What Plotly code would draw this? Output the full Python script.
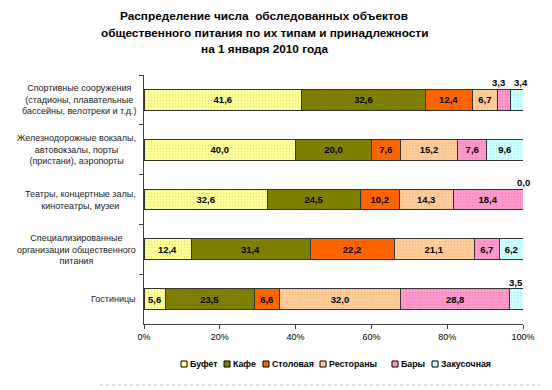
import plotly.graph_objects as go

categories = [
    "Спортивные сооружения<br>(стадионы, плавательные<br>бассейны, велотреки и т.д.)",
    "Железнодорожные вокзалы,<br>автовокзалы, порты<br>(пристани), аэропорты",
    "Театры, концертные залы,<br>кинотеатры, музеи",
    "Специализированные<br>организации общественного<br>питания",
    "Гостиницы",
]
series_names = ["Буфет", "Кафе", "Столовая", "Рестораны", "Бары", "Закусочная"]
buffet = [41.6, 40.0, 32.6, 12.4, 5.6]
cafe = [32.6, 20.0, 24.5, 31.4, 23.5]
canteen = [12.4, 7.6, 10.2, 22.2, 6.6]
restaurants = [6.7, 15.2, 14.3, 21.1, 32.0]
bars = [3.3, 7.6, 18.4, 6.7, 28.8]
snack = [3.4, 9.6, 0.0, 6.2, 3.5]
x_tick_values = [0, 20, 40, 60, 80, 100]
x_tick_labels = ["0%", "20%", "40%", "60%", "80%", "100%"]
title_lines = ["Распределение числа  обследованных объектов",
               "общественного питания по их типам и принадлежности",
               "на 1 января 2010 года"]

series_values = [buffet, cafe, canteen, restaurants, bars, snack]
colors = ["#FFFF99", "#808000", "#FF6600", "#FFCC99", "#FF99CC", "#CCFFFF"]
pattern_fg = ["#C8C860", "#6A6A00", "#E05000", "#E0A878", "#E070A8", "#90D8D8"]

FONT = "Liberation Sans, Arial, sans-serif"
OUT_THRESHOLD = 5.0

# plot-area geometry (pixels)
W, H = 552, 390
L, R, T, B = 144, 29, 75, 66
PW, PH = W - L - R, H - T - B

def px_x(px):
    return (px - L) / PW

def px_y(py):
    return (H - B - py) / PH

def fmt(v):
    return f"{v:.1f}".replace(".", ",")

fig = go.Figure()
annotations = []
shapes = []
cum = [0.0] * len(categories)
outside = [[] for _ in categories]
for name, vals, col, pfg in zip(series_names, series_values, colors, pattern_fg):
    texts = [fmt(v) if v >= OUT_THRESHOLD else "" for v in vals]
    fig.add_trace(go.Bar(
        name=name, y=categories, x=vals, orientation="h",
        marker=dict(color=col, line=dict(color="#333333", width=1),
                    pattern=dict(shape=".", fgcolor=pfg, size=3, solidity=0.15)),
        text=texts, texttemplate="<b>%{text}</b>", textposition="inside",
        insidetextanchor="middle", constraintext="none",
        textfont=dict(family=FONT, size=9.5, color="#000000"),
        hoverinfo="skip", showlegend=False,
    ))
    for i, v in enumerate(vals):
        if v < OUT_THRESHOLD:
            outside[i].append((min(cum[i] + v / 2, 100), v))
        cum[i] += v

for i, labels in enumerate(outside):
    n = len(labels)
    for k, (xc, v) in enumerate(labels):
        shift = 0
        if n > 1:
            shift = -5 if k == 0 else 4
        annotations.append(dict(
            x=xc, y=categories[i], xref="x", yref="y",
            text="<b>" + fmt(v) + "</b>", showarrow=False,
            xshift=shift, yshift=17,
            font=dict(family=FONT, size=9.5, color="#000000"),
        ))

for c in categories:
    annotations.append(dict(
        x=0, y=c, xref="paper", yref="y", xanchor="right", yanchor="middle",
        xshift=-6, text=c, align="center", showarrow=False,
        font=dict(family=FONT, size=9, color="#222222"),
    ))

# title (one annotation per line to match line spacing)
title_y_px = [16, 32.5, 48.5]
for line, ty in zip(title_lines, title_y_px):
    annotations.append(dict(
        x=px_x(264), y=px_y(ty), xref="paper", yref="paper",
        xanchor="center", yanchor="middle",
        text="<b>" + line + "</b>", showarrow=False,
        font=dict(family=FONT, size=11.8, color="#000000"),
    ))

# custom compact legend (square + label), positions
legend_sq_px = [181, 224, 263, 320, 392, 432]
legend_y_px = 364
for name, col, sx in zip(series_names, colors, legend_sq_px):
    shapes.append(dict(type="rect", xref="paper", yref="paper",
                       x0=px_x(sx), x1=px_x(sx + 6),
                       y0=px_y(legend_y_px + 3), y1=px_y(legend_y_px - 3),
                       fillcolor=col, line=dict(color="#000000", width=1)))
    annotations.append(dict(
        x=px_x(sx + 7), y=px_y(legend_y_px), xref="paper", yref="paper",
        xanchor="left", yanchor="middle", text="<b>" + name + "</b>",
        showarrow=False, font=dict(family=FONT, size=8.8, color="#000000"),
    ))

shapes.append(dict(type="line", xref="paper", yref="paper",
                   x0=px_x(100), x1=px_x(540), y0=px_y(385), y1=px_y(385),
                   line=dict(color="#C0C0C0", width=1, dash="dot")))

fig.update_layout(
    width=W, height=H,
    margin=dict(l=L, r=R, t=T, b=B, autoexpand=False),
    barmode="stack", bargap=0.58,
    plot_bgcolor="white", paper_bgcolor="white",
    font=dict(family=FONT, size=9, color="#000000"),
    showlegend=False,
    annotations=annotations,
    shapes=shapes,
    xaxis=dict(range=[0, 100], tickvals=x_tick_values, ticktext=x_tick_labels,
               showgrid=False, zeroline=False, showline=True, linecolor="#404040",
               linewidth=1, ticks="outside", ticklen=4, tickcolor="#404040",
               tickfont=dict(family=FONT, size=9, color="#000000"),
               automargin=False, fixedrange=True),
    yaxis=dict(categoryorder="array", categoryarray=categories, autorange="reversed",
               showticklabels=False, showgrid=False, zeroline=False, showline=True,
               linecolor="#404040", linewidth=1, ticks="outside", ticklen=4,
               tickcolor="#404040", tickson="boundaries", automargin=False,
               fixedrange=True),
)

fig.write_html("out.html", config={"displayModeBar": False},
               post_script="document.body.style.margin='0';document.body.style.overflow='hidden';")
